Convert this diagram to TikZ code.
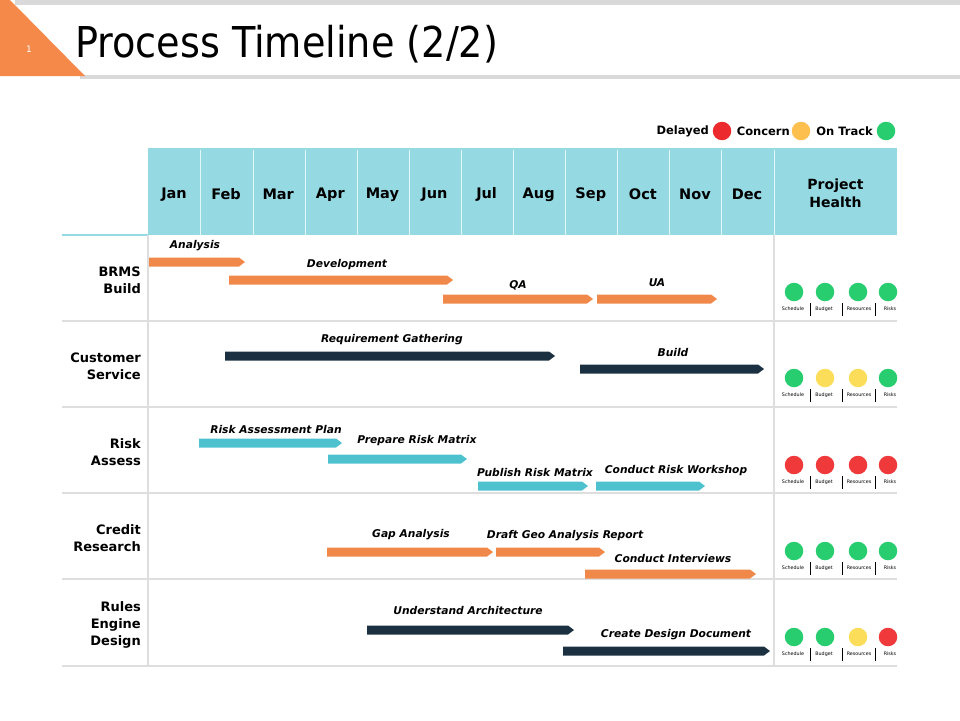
\documentclass[tikz,border=0pt]{standalone}
\usepackage{fontspec}
\setmainfont{DejaVu Sans}
\newfontfamily\titlefont{DejaVu Sans Condensed}
\definecolor{headcyan}{HTML}{95D9E3}
\definecolor{barorange}{HTML}{F0884A}
\definecolor{barnavy}{HTML}{1B3142}
\definecolor{barteal}{HTML}{4EC1CF}
\definecolor{gridgray}{HTML}{DEDEDE}
\definecolor{hgreen}{HTML}{27CD6E}
\definecolor{hred}{HTML}{F0393A}
\definecolor{hyellow}{HTML}{FBDD5A}
\definecolor{lyellow}{HTML}{FDBF4D}
\definecolor{lred}{HTML}{EC2A2E}
\definecolor{topgray}{HTML}{D9D9D9}
\definecolor{triorange}{HTML}{F5894A}
\newcommand\ganttbar[4]{\fill[#4] (#1,#3-4.5) -- (#2-6,#3-4.5) -- (#2,#3) -- (#2-6,#3+4.5) -- (#1,#3+4.5) -- cycle;}
\tikzset{
  monthlbl/.style={font=\fontsize{14.5}{16}\selectfont\bfseries, text=black, inner sep=0pt, yshift=-1.5pt},
  rowlbl/.style={font=\fontsize{13}{17.2}\selectfont\bfseries, align=right, anchor=east, inner sep=0pt, yshift=-1pt},
  barlbl/.style={font=\fontsize{10.7}{12}\selectfont\bfseries\itshape, inner sep=0pt, yshift=-1.5pt},
  leglbl/.style={font=\fontsize{11.5}{13}\selectfont\bfseries, inner sep=0pt, yshift=-0.5pt},
  hlbl/.style={font=\fontsize{4.8}{5}\selectfont, inner sep=0pt},
  gridline/.style={draw=gridgray, line width=1.3pt},
  dot/.style={circle, minimum size=18.5pt, inner sep=0pt},
}
\begin{document}
\begin{tikzpicture}[x=1pt,y=-1pt]
\useasboundingbox (0,0) rectangle (960,720);
% title decorations
\fill[topgray] (15,0) rectangle (960,5);
\fill[topgray] (80,75) rectangle (960,79);
\fill[triorange] (0,0) -- (10,0) -- (85,76) -- (0,76) -- cycle;
\node[text=white, font=\fontsize{9}{10}\selectfont, inner sep=0pt] (pnum) at (29,49) {1};
\node[anchor=west, font=\titlefont\fontsize{42.5}{44}\selectfont, inner sep=0pt] (title) at (75,44) {Process Timeline (2/2)};
% legend
\node[dot, fill=hgreen] (lg) at (886,131) {};
\node[leglbl, anchor=east] (lgt) at (873,131) {On Track};
\node[dot, fill=lyellow] (ly) at (801,131) {};
\node[leglbl, anchor=east] (lyt) at (790,131) {Concern};
\node[dot, fill=lred] (lr) at (722,131) {};
\node[leglbl, anchor=east] (lrt) at (709,131) {Delayed};
% header
\fill[headcyan] (148,148) rectangle (897,235);
\foreach \x in {200,253,305,357,409,461,513,565,617,669,721,774}
  \draw[white!75!headcyan, line width=1pt] (\x,150) -- (\x,235);
\foreach \m [count=\i from 0] in {Jan,Feb,Mar,Apr,May,Jun,Jul,Aug,Sep,Oct,Nov,Dec}
  \node[monthlbl] (m\i) at ({174+52.1*\i},193) {\m};
\node[monthlbl, align=center, font=\fontsize{14}{18}\selectfont\bfseries] (ph) at (835.5,192) {Project\\Health};
% grid
\draw[headcyan, line width=1.3pt] (62,235) -- (148,235);
\foreach \y in {321,407,493,579,666}
  \draw[gridline] (62,\y) -- (897,\y);
\draw[gridline] (148,235) -- (148,666);
\draw[gridline] (774,235) -- (774,666);
% row labels
\node[rowlbl] (r1) at (141,279) {BRMS\\Build};
\node[rowlbl] (r2) at (141,365) {Customer\\Service};
\node[rowlbl] (r3) at (141,451) {Risk\\Assess};
\node[rowlbl] (r4) at (141,537) {Credit\\Research};
\node[rowlbl] (r5) at (141,624) {Rules\\Engine\\Design};
% row 1 bars
\ganttbar{149}{245}{262}{barorange}
\ganttbar{229}{453}{280}{barorange}
\ganttbar{443}{593}{299}{barorange}
\ganttbar{597}{717}{299}{barorange}
\node[barlbl] (t11) at (195,244) {Analysis};
\node[barlbl] (t12) at (347,263) {Development};
\node[barlbl] (t13) at (518,284) {QA};
\node[barlbl] (t14) at (657,281) {UA};
% row 2 bars
\ganttbar{225}{555}{356}{barnavy}
\ganttbar{580}{764}{369}{barnavy}
\node[barlbl] (t21) at (392,338) {Requirement Gathering};
\node[barlbl] (t22) at (673,351) {Build};
% row 3 bars
\ganttbar{199}{342}{443}{barteal}
\ganttbar{328}{467}{459}{barteal}
\ganttbar{478}{588}{486}{barteal}
\ganttbar{596}{705}{486}{barteal}
\node[barlbl] (t31) at (276,428) {Risk Assessment Plan};
\node[barlbl] (t32) at (417,439) {Prepare Risk Matrix};
\node[barlbl] (t33) at (535,471) {Publish Risk Matrix};
\node[barlbl] (t34) at (676,469) {Conduct Risk Workshop};
% row 4 bars
\ganttbar{327}{493}{552}{barorange}
\ganttbar{496}{605}{552}{barorange}
\ganttbar{585}{756}{574}{barorange}
\node[barlbl] (t41) at (411,533) {Gap Analysis};
\node[barlbl] (t42) at (565,534) {Draft Geo Analysis Report};
\node[barlbl] (t43) at (673,557) {Conduct Interviews};
% row 5 bars
\ganttbar{367}{574}{630}{barnavy}
\ganttbar{563}{770}{651}{barnavy}
\node[barlbl] (t51) at (468,609) {Understand Architecture};
\node[barlbl] (t52) at (676,633) {Create Design Document};
% health indicators
\foreach \r/\y/\ca/\cb/\cc/\cd in {1/292/hgreen/hgreen/hgreen/hgreen,
                                    2/378/hgreen/hyellow/hyellow/hgreen,
                                    3/465/hred/hred/hred/hred,
                                    4/551/hgreen/hgreen/hgreen/hgreen,
                                    5/637/hgreen/hgreen/hyellow/hred} {
  \node[dot, fill=\ca] (h\r a) at (794,\y) {};
  \node[dot, fill=\cb] (h\r b) at (825,\y) {};
  \node[dot, fill=\cc] (h\r c) at (858,\y) {};
  \node[dot, fill=\cd] (h\r d) at (888,\y) {};
  \node[hlbl] (s\r a) at (793,\y+17) {Schedule};
  \node[hlbl] (s\r b) at (824,\y+17) {Budget};
  \node[hlbl] (s\r c) at (859,\y+17) {Resources};
  \node[hlbl] (s\r d) at (890,\y+17) {Risks};
  \draw[black, line width=0.5pt] (810,\y+11) -- (810,\y+24);
  \draw[black, line width=0.5pt] (842,\y+11) -- (842,\y+24);
  \draw[black, line width=0.5pt] (875,\y+11) -- (875,\y+24);
}
\end{tikzpicture}
\end{document}
